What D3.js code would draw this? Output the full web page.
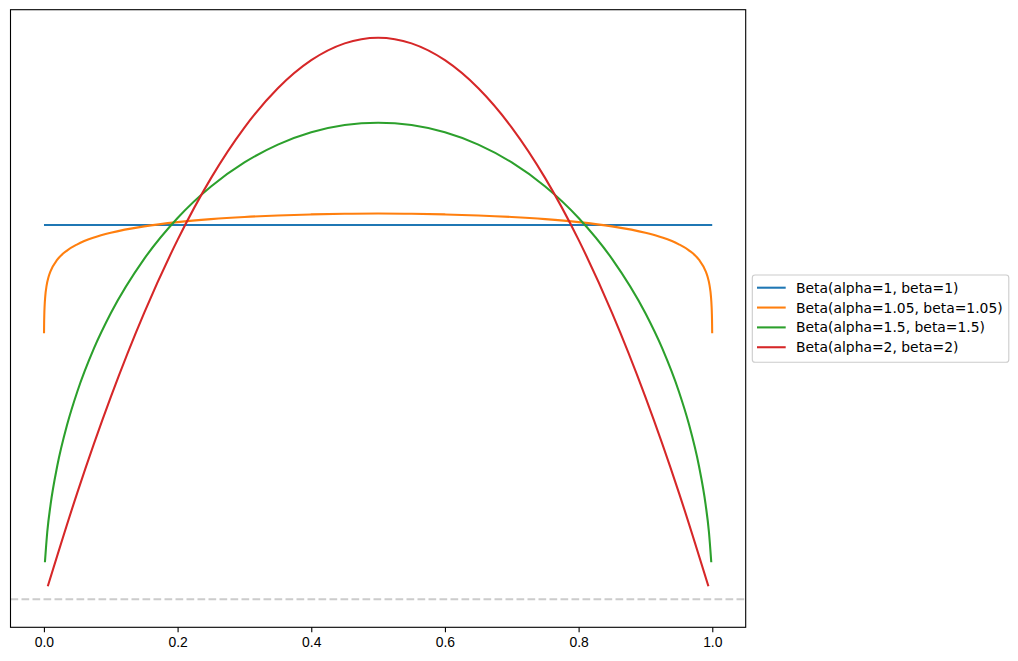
<!DOCTYPE html>
<html>
<head>
    <meta charset="utf-8">
    <style>
        body { margin: 0; background: #fff; }
        svg { display: block; font-family: 'DejaVu Sans', sans-serif; }
        .x .tick line { stroke: #000; stroke-width: 1.1px; }
        .x .tick text { font-size: 13.9px; fill: #000; }
        .x .domain { display: none; }
        .spine { fill: none; stroke: #000; stroke-width: 1.1px; }
        .curve { fill: none; stroke-width: 2.08px; stroke-linecap: butt; stroke-linejoin: round; }
        .zero { stroke: #cccccc; stroke-width: 2.08px; stroke-dasharray: 7.7 3.3; }
        .legend-box { fill: rgba(255,255,255,0.8); stroke: #cccccc; stroke-width: 1.1px; }
        .legend text { font-size: 13.9px; fill: #000; }
    </style>
</head>
<body>
<svg width="1018" height="661"></svg>

<script src="https://cdn.jsdelivr.net/npm/d3@7"></script>
<script>
    // values
    let xTicks = [0.0, 0.2, 0.4, 0.6, 0.8, 1.0];
    let seriesNames = [
        "Beta(alpha=1, beta=1)",
        "Beta(alpha=1.05, beta=1.05)",
        "Beta(alpha=1.5, beta=1.5)",
        "Beta(alpha=2, beta=2)"
    ];

    let uniformX = [0.0001, 0.9999];
    let uniformY = [1, 1];

    let beta105X = [0.000148, 0.0003, 0.0006, 0.001, 0.002, 0.004, 0.007, 0.01, 0.02, 0.035, 0.05, 0.075, 0.1, 0.15, 0.2, 0.25, 0.3, 0.35, 0.4, 0.45, 0.5,
        0.55, 0.6, 0.65, 0.7, 0.75, 0.8, 0.85, 0.9, 0.925, 0.95, 0.965, 0.98, 0.99, 0.993, 0.996, 0.998, 0.999, 0.9994, 0.9997, 0.999852];
    let beta105Y = [0.7105, 0.7361, 0.762, 0.7817, 0.8092, 0.8376, 0.8613, 0.8766, 0.9071, 0.9321, 0.9482, 0.9663, 0.979, 0.9961, 1.0075, 1.0155, 1.0213, 1.0254, 1.0281, 1.0298, 1.0303,
        1.0298, 1.0281, 1.0254, 1.0213, 1.0155, 1.0075, 0.9961, 0.979, 0.9663, 0.9482, 0.9321, 0.9071, 0.8766, 0.8613, 0.8376, 0.8092, 0.7817, 0.762, 0.7361, 0.7105];

    let beta15X = [0.00151, 0.005, 0.01, 0.02, 0.035, 0.05, 0.075, 0.1, 0.15, 0.2, 0.25, 0.3, 0.35, 0.4, 0.45, 0.5,
        0.55, 0.6, 0.65, 0.7, 0.75, 0.8, 0.85, 0.9, 0.925, 0.95, 0.965, 0.98, 0.99, 0.995, 0.99849];
    let beta15Y = [0.0989, 0.1796, 0.2534, 0.3565, 0.468, 0.555, 0.6707, 0.7639, 0.9093, 1.0186, 1.1027, 1.1669, 1.2146, 1.2475, 1.2669, 1.2732,
        1.2669, 1.2475, 1.2146, 1.1669, 1.1027, 1.0186, 0.9093, 0.7639, 0.6707, 0.555, 0.468, 0.3565, 0.2534, 0.1796, 0.0989];

    let beta2X = [0.00578, 0.05, 0.1, 0.15, 0.2, 0.25, 0.3, 0.35, 0.4, 0.45, 0.5, 0.55, 0.6, 0.65, 0.7, 0.75, 0.8, 0.85, 0.9, 0.95, 0.99422];
    let beta2Y = [0.0345, 0.285, 0.54, 0.765, 0.96, 1.125, 1.26, 1.365, 1.44, 1.485, 1.5, 1.485, 1.44, 1.365, 1.26, 1.125, 0.96, 0.765, 0.54, 0.285, 0.0345];

    let colors = ["#1f77b4", "#ff7f0e", "#2ca02c", "#d62728"];

    let margin = { top: 9.7, right: 272.3, bottom: 33.7, left: 10.5 };
    let width = 1018;
    let height = 661;

    let svg = d3.select("svg");

    let xScale = d3.scaleLinear()
        .domain([-0.05, 1.05])
        .range([margin.left, width - margin.right]);

    let yScale = d3.scaleLinear()
        .domain([-0.075, 1.575])
        .range([height - margin.bottom, margin.top]);

    let series = [
        { name: seriesNames[0], xs: uniformX, ys: uniformY },
        { name: seriesNames[1], xs: beta105X, ys: beta105Y },
        { name: seriesNames[2], xs: beta15X, ys: beta15Y },
        { name: seriesNames[3], xs: beta2X, ys: beta2Y }
    ];

    let line = d3.line()
        .x(function (d) { return xScale(d[0]); })
        .y(function (d) { return yScale(d[1]); })
        .curve(d3.curveMonotoneX);

    let plot = svg.append("g");

    plot.selectAll(".curve")
        .data(series)
        .enter().append("path")
        .attr("class", "curve")
        .attr("stroke", function (d, i) { return colors[i]; })
        .attr("d", function (d) { return line(d.xs.map(function (x, j) { return [x, d.ys[j]]; })); });

    // dashed reference line at zero
    plot.append("line")
        .attr("class", "zero")
        .attr("x1", xScale.range()[0])
        .attr("x2", xScale.range()[1])
        .attr("y1", yScale(0))
        .attr("y2", yScale(0));

    svg.append("g")
        .attr("class", "x axis")
        .attr("transform", `translate(0,${height - margin.bottom})`)
        .call(d3.axisBottom(xScale)
            .tickValues(xTicks)
            .tickSize(4.86)
            .tickPadding(4.86)
            .tickFormat(d3.format(".1f")));

    svg.append("rect")
        .attr("class", "spine")
        .attr("x", xScale.range()[0])
        .attr("y", margin.top)
        .attr("width", xScale.range()[1] - xScale.range()[0])
        .attr("height", yScale.range()[0] - margin.top);

    // legend
    let legend = svg.append("g").attr("class", "legend");
    legend.append("rect")
        .attr("class", "legend-box")
        .attr("x", 752.3)
        .attr("y", 275)
        .attr("width", 256.5)
        .attr("height", 87.3)
        .attr("rx", 2.8);

    let entries = legend.selectAll(".entry")
        .data(series)
        .enter().append("g")
        .attr("class", "entry")
        .attr("transform", function (d, i) { return `translate(0,${287.7 + i * 19.85})`; });

    entries.append("line")
        .attr("x1", 757)
        .attr("x2", 785.7)
        .attr("stroke", function (d, i) { return colors[i]; })
        .attr("stroke-width", 2.08);

    entries.append("text")
        .attr("x", 796)
        .attr("dy", "0.36em")
        .text(function (d) { return d.name; });
</script>
</body>
</html>
